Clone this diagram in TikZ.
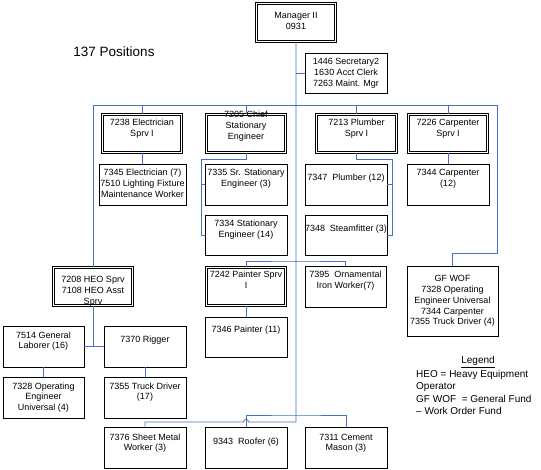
\documentclass[tikz,border=0pt]{standalone}
\usepackage{fontspec}
\setmainfont{Liberation Sans}
\usetikzlibrary{calc}
\definecolor{conn}{RGB}{68,114,196}
\newcommand\bxt[4]{\parbox[c][#2pt][t]{#1pt}{\centering\fontsize{9}{10.7}\selectfont\vspace*{#3pt}\leavevmode\rule{0pt}{7pt}#4\par}}
\begin{document}
\begin{tikzpicture}[x=1pt,y=-1pt,
  box/.style={draw, line width=0.8pt, inner sep=0pt},
  dbox/.style={draw, double, line width=0.75pt, double distance=1.1pt, inner sep=-1.3pt},
  link/.style={draw=conn, line width=0.8pt}]
\fill[white] (0,0) rectangle (541,470);
\useasboundingbox (0,0) rectangle (541,470);

\node (title) at (114,52) {\fontsize{13.5}{16}\selectfont 137 Positions};

\node[dbox] (mgr) at (296,22.5) {\bxt{82}{41}{10}{Manager II\\0931}};
\node[box] (sec) at (346,73) {\bxt{82}{40}{5}{1446 Secretary2\\1630 Acct Clerk\\7263 Maint. Mgr}};

\node[dbox] (elecS) at (142,133.5) {\bxt{82}{41}{6}{7238 Electrician\\Sprv I}};
\node[dbox] (chief) at (246,133.5) {\bxt{82}{41}{-2}{7205 Chief\\Stationary\\Engineer}};
\node[dbox] (plumbS) at (356.5,133.5) {\bxt{83}{41}{6}{7213 Plumber\\Sprv I}};
\node[dbox] (carpS) at (448,133.5) {\bxt{82}{41}{6}{7226 Carpenter\\Sprv I}};

\node[box] (elec7) at (142.5,184.5) {\bxt{87}{41}{5}{7345 Electrician (7)\\7510 Lighting Fixture\\Maintenance Worker}};
\node[box] (srstat) at (246,184.5) {\bxt{82}{41}{5}{7335 Sr. Stationary\\Engineer (3)}};
\node[box] (stat) at (246,235) {\bxt{82}{40}{5}{7334 Stationary\\Engineer (14)}};
\node[box] (plumb12) at (346,184.5) {\bxt{82}{41}{10}{7347\ \ Plumber (12)}};
\node[box] (steam) at (346,235) {\bxt{82}{40}{10}{7348\ \ Steamfitter (3)}};
\node[box] (carp12) at (448,184.5) {\bxt{82}{41}{5}{7344 Carpenter\\(12)}};

\node[box] (gfwof) at (452.5,301) {\bxt{91}{70}{9}{GF WOF\\7328 Operating\\Engineer Universal\\7344 Carpenter\\7355 Truck Driver (4)}};

\node[dbox] (heo) at (93,286.5) {\bxt{82}{41}{10}{7208 HEO Sprv\\7108 HEO Asst\\Sprv}};
\node[box] (laborer) at (43.5,346.5) {\bxt{81}{41}{5}{7514 General\\Laborer (16)}};
\node[box] (rigger) at (145,346.5) {\bxt{82}{41}{10}{7370 Rigger}};
\node[box] (oe) at (43.5,397.5) {\bxt{81}{41}{5}{7328 Operating\\Engineer\\Universal (4)}};
\node[box] (truck) at (145,397.5) {\bxt{82}{41}{5}{7355 Truck Driver\\(17)}};

\node[dbox] (painterS) at (246,286.5) {\bxt{82}{41}{5}{7242 Painter Sprv\\I}};
\node[box] (orn) at (345.5,286.5) {\bxt{81}{41}{5}{7395\ \ Ornamental\\Iron Worker(7)}};
\node[box] (painter11) at (246,337) {\bxt{82}{40}{9}{7346 Painter (11)}};

\node[box] (sheet) at (145,447.5) {\bxt{82}{41}{6}{7376 Sheet Metal\\Worker (3)}};
\node[box] (roofer) at (246,447.5) {\bxt{82}{41}{10}{9343\ \ Roofer (6)}};
\node[box] (cement) at (346,447.5) {\bxt{82}{41}{6}{7311 Cement\\Mason (3)}};

\node (legend) at (478,362) {\fontsize{10}{12}\selectfont\underline{Legend}};
\node[anchor=north west, align=left, inner sep=0pt, font=\fontsize{10}{12.3}\selectfont] (legtext) at (416,370) {HEO = Heavy Equipment\\Operator\\GF WOF\ \ = General Fund\\– Work Order Fund};

% connectors
\coordinate (busL) at (93,105);
\coordinate (busR) at (497,105);
\coordinate (gft) at (497,253);
\coordinate (cj) at (201,159);
\coordinate (pj) at (392,159);
\coordinate (pb) at (296,261);
\coordinate (rb) at (296,415);
\coordinate (tend) at (296,422);
\coordinate (hop) at (246,422);

\draw[link] (mgr.south) -- (tend) -- ($(hop)+(2.6,0)$) arc[start angle=0, end angle=-180, radius=2.6] -- (sheet.north |- tend) -- (sheet.north);
\draw[link] (sec.west) -- (sec.west -| mgr.south);
\draw[link] (busL) -- (busR);
\draw[link] (busL) -- (heo.north);
\foreach \n in {elecS,chief,plumbS,carpS} \draw[link] (\n.north) -- (\n.north |- busL);
\draw[link] (busR) -- (gft) -| (gfwof.north);
\draw[link] (elecS.south) -- (elecS.south |- elec7.north);
\draw[link] (carpS.south) -- (carpS.south |- carp12.north);
\draw[link] (chief.south) |- (cj) |- (stat.west);
\draw[link] (cj) |- (srstat.west);
\draw[link] (plumbS.south) |- (pj) |- (steam.east);
\draw[link] (pj) |- (plumb12.east);
\draw[link] (heo.south) -- (heo.south |- laborer.east);
\draw[link] (laborer.east) -- (rigger.west);
\draw[link] (laborer.south) -- (oe.north);
\draw[link] (rigger.south) -- (truck.north);
\draw[link] (painterS.north) |- (pb) -| (orn.north);
\draw[link] (painterS.south) -- (painter11.north);
\draw[link] (roofer.north) |- (rb) -| (cement.north);
\end{tikzpicture}
\end{document}
